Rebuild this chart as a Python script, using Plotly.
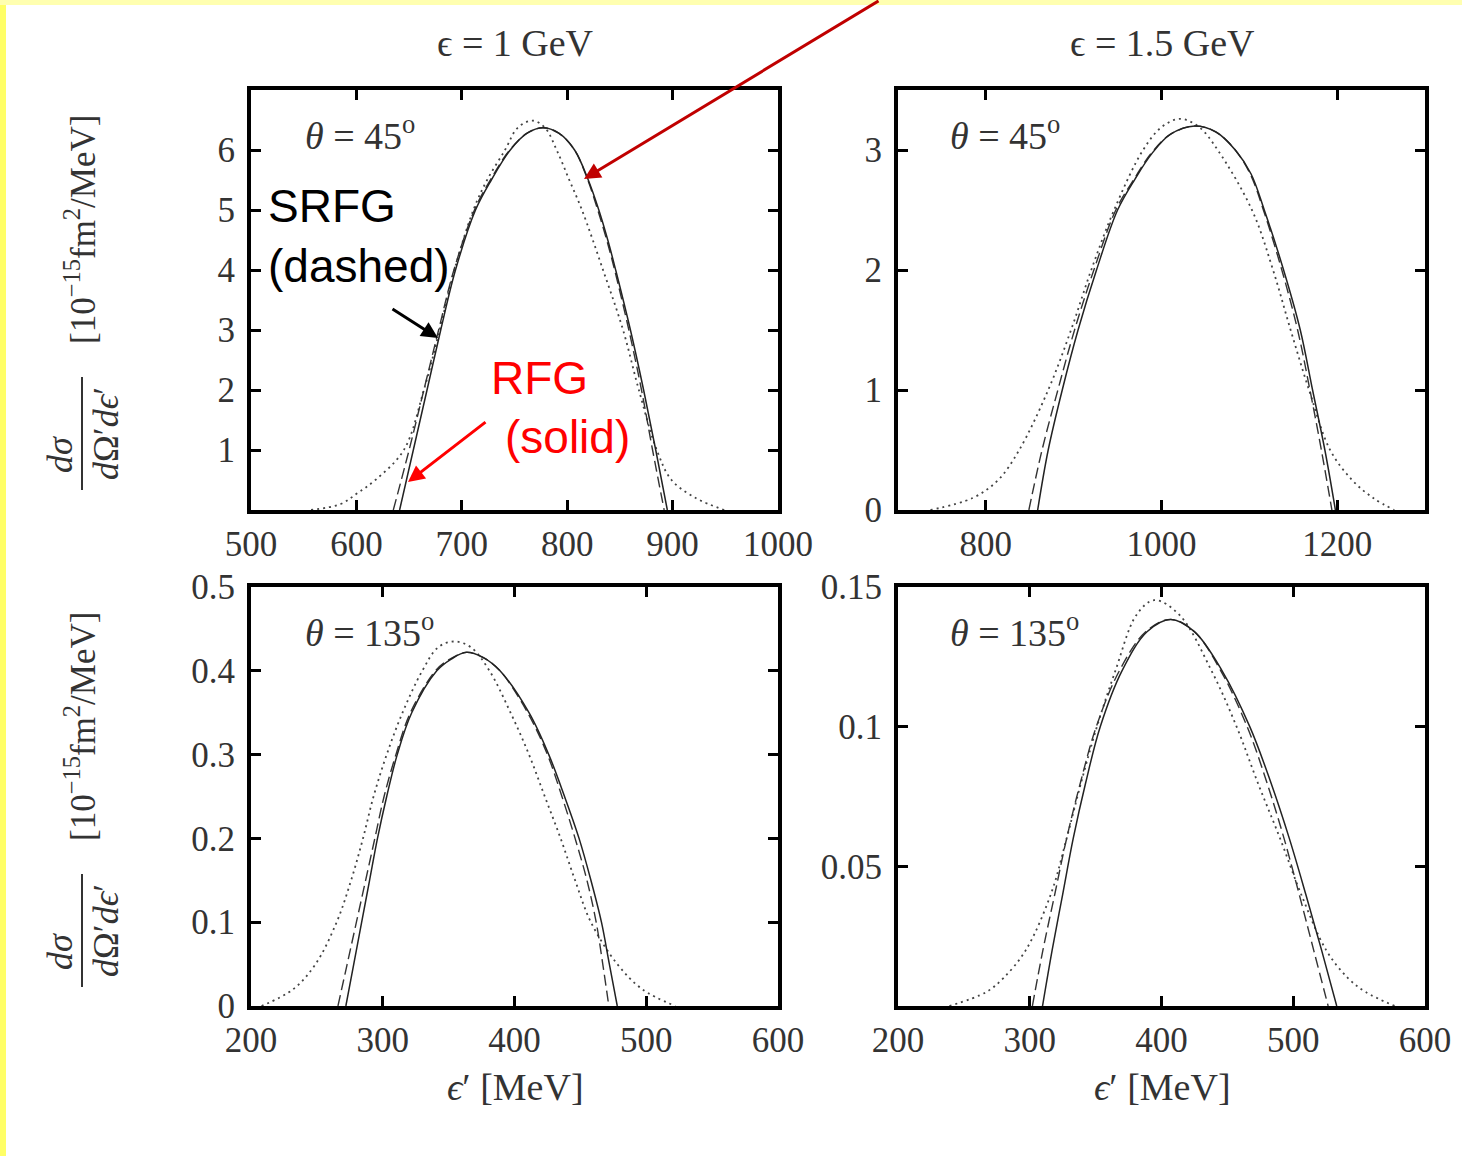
import plotly.graph_objects as go

W, H = 1462, 1156

# ---------------- data ----------------
# Panel A: eps = 1 GeV, theta = 45 deg
a_solid_x = [641, 654, 667, 680, 694, 713, 728, 746, 762, 777, 792, 807, 820, 830, 838.5, 846, 860, 872.5, 884, 895]
a_solid_y = [0, 1, 2, 3, 4, 5, 5.5, 6, 6.28, 6.37, 6.28, 6, 5.5, 5, 4.5, 4, 3, 2, 1, 0]
a_dash_x = [635, 650, 664, 678, 692.5, 712, 727, 745.5, 762, 777, 792, 807, 819.5, 829, 837.5, 845, 858.5, 870.5, 881, 892]
a_dash_y = [0, 1, 2, 3, 4, 5, 5.5, 6, 6.28, 6.37, 6.28, 6, 5.5, 5, 4.5, 4, 3, 2, 1, 0]
a_dot_x = [557, 585, 601, 618, 645, 664, 679, 693, 711, 724, 741, 753, 767, 779, 790, 802, 814, 834, 853, 868, 885, 899, 922, 949]
a_dot_y = [0, 0.1, 0.28, 0.5, 1, 2, 3, 4, 5, 5.5, 6, 6.37, 6.49, 6.37, 6, 5.5, 5, 4, 3, 2, 1, 0.5, 0.2, 0]

# Panel B: eps = 1.5 GeV, theta = 45 deg
b_solid_x = [859, 871, 887, 905, 926, 950, 970, 989, 1010, 1038, 1062, 1084, 1102, 1117, 1139, 1158, 1172, 1186, 1198]
b_solid_y = [0, 0.5, 1, 1.5, 2, 2.5, 2.76, 2.97, 3.13, 3.20, 3.15, 3, 2.8, 2.5, 2, 1.5, 1, 0.5, 0]
b_dash_x = [849, 864, 882, 901, 923, 948, 969, 988, 1010, 1038, 1062, 1084, 1101, 1116, 1137, 1155, 1169, 1182, 1194]
b_dash_y = [0, 0.5, 1, 1.5, 2, 2.5, 2.76, 2.97, 3.13, 3.20, 3.15, 3, 2.8, 2.5, 2, 1.5, 1, 0.5, 0]
b_dot_x = [737, 785, 814, 838, 871, 897, 920, 946, 979, 1000, 1021, 1043, 1064, 1103, 1127, 1147, 1168, 1192, 1217, 1241, 1265]
b_dot_y = [0, 0.1, 0.25, 0.5, 1, 1.5, 2, 2.5, 3, 3.19, 3.26, 3.19, 3, 2.5, 2, 1.5, 1, 0.5, 0.25, 0.1, 0]

# Panel C: eps = 1 GeV, theta = 135 deg
c_solid_x = [272, 278, 284, 290, 296, 303, 311, 322, 341, 352, 363.5, 376, 389, 411, 426, 438, 449, 458, 466, 472, 478]
c_solid_y = [0, .05, .1, .15, .2, .25, .3, .35, .4, .414, .422, .416, .4, .35, .3, .25, .2, .15, .1, .05, 0]
c_dash_x = [266, 273, 280, 287, 294, 301, 310, 321, 340, 351, 363.5, 376, 389, 410, 425, 436, 446, 455, 462, 467, 471.6]
c_dash_y = [0, .05, .1, .15, .2, .25, .3, .35, .4, .414, .422, .416, .4, .35, .3, .25, .2, .15, .1, .05, 0]
c_dot_x = [208, 232, 249, 265, 276, 285, 293, 303, 315, 330, 342, 354, 367, 381, 397, 411, 423, 435, 446, 458, 478, 497, 522]
c_dot_y = [0, .02, .05, .1, .15, .2, .25, .3, .35, .4, .428, .435, .428, .4, .35, .3, .25, .2, .15, .1, .05, .02, 0]

# Panel D: eps = 1.5 GeV, theta = 135 deg
d_solid_x = [309.7, 317, 325, 333, 342.5, 353.5, 370, 389, 407, 425, 446, 467, 483, 497, 509.5, 521.5, 533]
d_solid_y = [0, .02, .04, .06, .08, .10, .12, .134, .1384, .134, .12, .10, .08, .06, .04, .02, 0]
d_dash_x = [302, 310, 319, 328, 338.5, 350.5, 368, 388, 407, 425, 445, 465, 480, 493, 504.5, 515.5, 526.5]
d_dash_y = [0, .02, .04, .06, .08, .10, .12, .134, .1384, .134, .12, .10, .08, .06, .04, .02, 0]
d_dot_x = [239, 267, 280, 297, 316, 328, 339, 351, 365, 381, 394.5, 413.6, 438, 457, 473, 490, 506, 525, 541.5, 555, 577]
d_dot_y = [0, .005, .01, .02, .04, .06, .08, .10, .12, .14, .1453, .14, .12, .10, .08, .06, .04, .02, .01, .005, 0]

# tick labels
a_xticks = [500, 600, 700, 800, 900, 1000]
a_yticks = [1, 2, 3, 4, 5, 6]
b_xticks = [800, 1000, 1200]
b_yticks = [0, 1, 2, 3]
c_xticks = [200, 300, 400, 500, 600]
c_yticks = [0, 0.1, 0.2, 0.3, 0.4, 0.5]
c_yticktext = ["0", "0.1", "0.2", "0.3", "0.4", "0.5"]
d_xticks = [200, 300, 400, 500, 600]
d_yticks = [0.05, 0.1, 0.15]
d_yticktext = ["0.05", "0.1", "0.15"]

titles = ["\u03f5 = 1 GeV", "\u03f5 = 1.5 GeV"]
# ---------------------------------------------------------------

def px(x):
    return x / W

def py(y):
    return 1 - y / H

SERIF = "Liberation Serif"
TXT = "#333"
fig = go.Figure()

panels = [
    ("x", "y", a_solid_x, a_solid_y, a_dash_x, a_dash_y, a_dot_x, a_dot_y),
    ("x2", "y2", b_solid_x, b_solid_y, b_dash_x, b_dash_y, b_dot_x, b_dot_y),
    ("x3", "y3", c_solid_x, c_solid_y, c_dash_x, c_dash_y, c_dot_x, c_dot_y),
    ("x4", "y4", d_solid_x, d_solid_y, d_dash_x, d_dash_y, d_dot_x, d_dot_y),
]
for xa, ya, sx, sy, dx, dy, ox, oy in panels:
    fig.add_trace(go.Scatter(x=ox, y=oy, xaxis=xa, yaxis=ya, mode="lines",
                             line=dict(color="#444", width=1.8, dash="2px,4px", shape="spline", smoothing=1),
                             showlegend=False, hoverinfo="skip"))
    fig.add_trace(go.Scatter(x=dx, y=dy, xaxis=xa, yaxis=ya, mode="lines",
                             line=dict(color="#333", width=1.4, dash="11px,5px", shape="spline", smoothing=1),
                             showlegend=False, hoverinfo="skip"))
    fig.add_trace(go.Scatter(x=sx, y=sy, xaxis=xa, yaxis=ya, mode="lines",
                             line=dict(color="#222", width=1.5, shape="spline", smoothing=1),
                             showlegend=False, hoverinfo="skip"))

def ax_style(**kw):
    d = dict(showline=True, linewidth=4, linecolor="black", mirror="ticks",
             ticks="inside", ticklen=10, tickwidth=3, tickcolor="black",
             showgrid=False, zeroline=False, automargin=False,
             tickfont=dict(family=SERIF, size=35, color=TXT))
    d.update(kw)
    return d

xL = [px(251), px(778)]
xR = [px(898), px(1425)]
yT = [py(510), py(90)]
yB = [py(1006), py(587)]

fig.update_layout(
    width=W, height=H,
    margin=dict(l=0, r=0, t=0, b=0, pad=0, autoexpand=False),
    paper_bgcolor="white", plot_bgcolor="white",
    xaxis=ax_style(domain=xL, range=[500, 1000], tickvals=a_xticks, anchor="y", ticklabelstandoff=0),
    yaxis=ax_style(domain=yT, range=[0, 7], tickvals=a_yticks, anchor="x", ticklabelstandoff=5),
    xaxis2=ax_style(domain=xR, range=[700, 1300], tickvals=b_xticks, anchor="y2", ticklabelstandoff=0),
    yaxis2=ax_style(domain=yT, range=[0, 3.5], tickvals=b_yticks, anchor="x2", ticklabelstandoff=5),
    xaxis3=ax_style(domain=xL, range=[200, 600], tickvals=c_xticks, anchor="y3", ticklabelstandoff=0),
    yaxis3=ax_style(domain=yB, range=[0, 0.5], tickvals=c_yticks, ticktext=c_yticktext, anchor="x3", ticklabelstandoff=5),
    xaxis4=ax_style(domain=xR, range=[200, 600], tickvals=d_xticks, anchor="y4", ticklabelstandoff=0),
    yaxis4=ax_style(domain=yB, range=[0, 0.15], tickvals=d_yticks, ticktext=d_yticktext, anchor="x4", ticklabelstandoff=5),
)

ann = []
# column titles
for t, cx in zip(titles, [515, 1162]):
    ann.append(dict(x=px(cx), y=py(43), xref="paper", yref="paper", text=t, showarrow=False,
                    font=dict(family=SERIF, size=38, color=TXT), xanchor="center", yanchor="middle"))
# x-axis titles
for cx in [515, 1162]:
    ann.append(dict(x=px(cx), y=py(1087), xref="paper", yref="paper", text="<i>\u03f5</i>\u2032 [MeV]",
                    showarrow=False, font=dict(family=SERIF, size=38, color=TXT),
                    xanchor="center", yanchor="middle"))
# theta labels
for lx, ly, t in [(303, 133, "<i>\u03b8</i> = 45<sup>o</sup>"), (948, 133, "<i>\u03b8</i> = 45<sup>o</sup>"),
                  (303, 630, "<i>\u03b8</i> = 135<sup>o</sup>"), (948, 630, "<i>\u03b8</i> = 135<sup>o</sup>")]:
    ann.append(dict(x=px(lx), y=py(ly), xref="paper", yref="paper", text=t, showarrow=False,
                    font=dict(family=SERIF, size=38, color=TXT), xanchor="left", yanchor="middle"))
# y-axis labels (fraction + units), one per row
for off in [0, 497]:
    ann.append(dict(x=px(60), y=py(455 + off), xref="paper", yref="paper", text="<i>d\u03c3</i>",
                    textangle=-90, showarrow=False, font=dict(family=SERIF, size=36, color=TXT),
                    xanchor="center", yanchor="middle"))
    ann.append(dict(x=px(106), y=py(434 + off), xref="paper", yref="paper",
                    text="<i>d</i>\u03a9\u2032<i>d\u03f5</i>\u2032",
                    textangle=-90, showarrow=False, font=dict(family=SERIF, size=36, color=TXT),
                    xanchor="center", yanchor="middle"))
    ann.append(dict(x=px(80), y=py(230 + off), xref="paper", yref="paper",
                    text="[10<sup>\u221215</sup>fm<sup>2</sup>/MeV]",
                    textangle=-90, showarrow=False, font=dict(family=SERIF, size=35, color=TXT),
                    xanchor="center", yanchor="middle"))

# callout texts
ann.append(dict(x=px(266), y=py(236), xref="paper", yref="paper", text="SRFG<br>(dashed)",
                showarrow=False, align="left", font=dict(family="Liberation Sans", size=46, color="black"),
                xanchor="left", yanchor="middle"))
ann.append(dict(x=px(489), y=py(378), xref="paper", yref="paper", text="RFG",
                showarrow=False, align="left", font=dict(family="Liberation Sans", size=46, color="#FF0000"),
                xanchor="left", yanchor="middle"))
ann.append(dict(x=px(503), y=py(437), xref="paper", yref="paper", text="(solid)",
                showarrow=False, align="left", font=dict(family="Liberation Sans", size=46, color="#FF0000"),
                xanchor="left", yanchor="middle"))
# arrows
for (tx, ty, sx, sy, col) in [(438, 338, 391, 308, "black"), (408, 482, 487, 421, "#FF0000"),
                              (584, 179, 880, -5, "#C00000")]:
    ann.append(dict(x=px(tx), y=py(ty), xref="paper", yref="paper", ax=sx - tx, ay=sy - ty,
                    axref="pixel", ayref="pixel", text="", showarrow=True, arrowhead=2,
                    arrowsize=1.1, arrowwidth=3, arrowcolor=col))

fig.update_layout(annotations=ann)

# yellow frame strips and fraction bars
shapes = [
    dict(type="rect", xref="paper", yref="paper", x0=0, x1=px(6), y0=0, y1=1,
         fillcolor="#FFFF66", line=dict(width=0), layer="below"),
    dict(type="rect", xref="paper", yref="paper", x0=0, x1=1, y0=py(5), y1=1,
         fillcolor="#FFFFB0", line=dict(width=0), layer="below"),
]
for off in [0, 497]:
    shapes.append(dict(type="line", xref="paper", yref="paper", x0=px(82), x1=px(82),
                       y0=py(377 + off), y1=py(490 + off), line=dict(color=TXT, width=2)))
fig.update_layout(shapes=shapes)

fig.write_html("out.html")
